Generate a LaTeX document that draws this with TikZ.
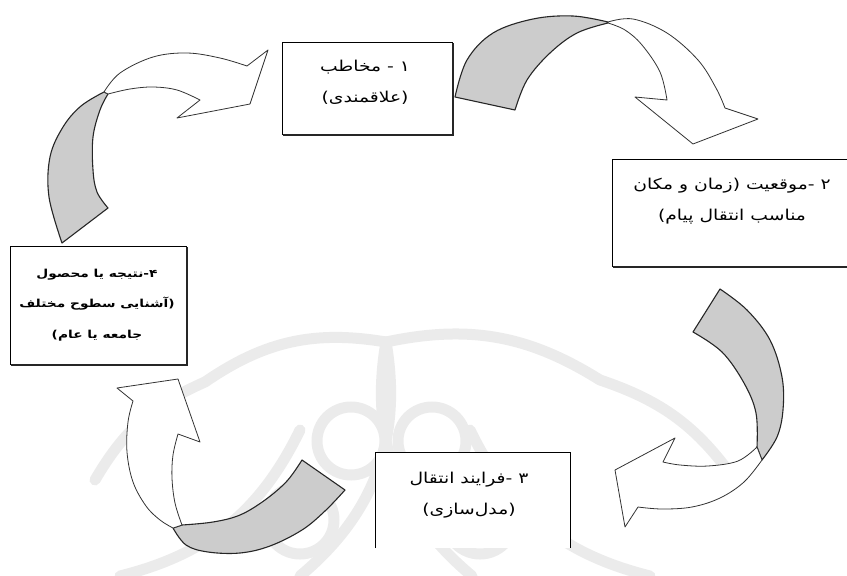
\documentclass[tikz,border=0pt]{standalone}
\usepackage{fontspec}
\newfontfamily\fa[Script=Arabic,FakeStretch=1.25]{DejaVu Sans}
\TeXXeTstate=1
\begin{document}
\begin{tikzpicture}[x=1pt,y=-1pt,
  box/.style={draw=black,line width=0.8pt,fill=white,inner sep=0pt},
  lbl/.style={font=\fa\fontsize{15}{31}\selectfont,align=center,inner sep=0pt},
  back/.style={draw=black!85,line width=1.1pt,fill=black!20,line join=round},
  front/.style={draw=black!80,line width=0.8pt,fill=white,line join=round},
  wm/.style={draw=black!8,line width=11pt,line cap=round}]
\useasboundingbox (0,0) rectangle (847,576);
\clip (0,0) rectangle (847,576);
% faint watermark
\draw[wm] (386,342) to[bend right=22] (205,382);
\draw[wm] (386,342) to[bend left=22] (600,380);
\draw[wm] (205,382) to[bend right=18] (95,480);
\draw[wm] (600,380) to[bend left=18] (735,480);
\draw[wm] (300,576) to[bend right=30] (386,342);
\draw[wm] (472,576) to[bend left=30] (386,342);
\draw[wm] (351,441) circle (34);
\draw[wm] (432,441) circle (34);
\draw[wm] (300,520) circle (34);
\draw[wm] (480,520) circle (34);
\draw[wm] (120,576) to[bend right=25] (300,430);
\draw[wm] (650,576) to[bend left=25] (470,430);
% boxes
\node[box,minimum width=170,minimum height=92] (b1) at (367,88) {};
\node[box,minimum width=250,minimum height=107] (b2) at (737,212.5) {};
\node[inner sep=0pt,minimum width=194,minimum height=95] (b3) at (473,500.5) {};
\node[box,minimum width=176,minimum height=118] (b4) at (98,305) {};
\fill[white] (b3.south west) rectangle (b3.north east);
\draw[line width=0.8pt] (b3.south west) -- (b3.north west) -- (b3.north east) -- (b3.south east);
\foreach \b in {b1,b2,b4}{
  \draw[line width=1.8pt,black!85] ([xshift=1pt,yshift=-0.6pt]\b.south west) -- ([xshift=0.6pt,yshift=-0.6pt]\b.south east) -- ([xshift=0.6pt,yshift=-1pt]\b.north east);
}
% texts
\node[lbl] (t1) at (365,82) {\beginR ۱ - مخاطب\endR\\\beginR (علاقمندی)\endR};
\node[lbl] (t2) at (732,201) {\beginR ۲ -موقعیت (زمان و مکان\endR\\\beginR مناسب انتقال پیام)\endR};
\node[lbl] (t3) at (469,495) {\beginR ۳ -فرایند انتقال\endR\\\beginR (مدل‌سازی)\endR};
\node[lbl,font=\fa\bfseries\fontsize{11}{30.5}\selectfont] (t4) at (97,305) {\beginR ۴-نتیجه یا محصول\endR\\\beginR (آشنایی سطوح مختلف\endR\\\beginR جامعه یا عام)\endR};
% arrow A (box 4 -> box 1)
\path[back] (62,243) -- plot[smooth,tension=0.6] coordinates {(62,243) (49,197) (50,157) (63,127) (81,106) (104,92)}
  -- plot[smooth,tension=0.6] coordinates {(108,94) (100,110) (93,137) (93,170) (97,192) (108,208)} -- cycle;
\path[front] (104,92) -- plot[smooth,tension=0.6] coordinates {(104,92) (120,73) (153,57) (187,53) (220,58) (247,66)}
  -- (268,50) -- (250,104) -- (177,118) -- (200,100)
  -- plot[smooth,tension=0.6] coordinates {(200,100) (177,90) (153,87) (130,89) (108,94)} -- cycle;
% arrow B (box 1 -> box 2)
\path[back] (455,97) -- plot[smooth,tension=0.6] coordinates {(455,97) (467,60) (493,33) (533,19) (573,16) (608,22)}
  -- plot[smooth,tension=0.6] coordinates {(608,23) (577,33) (550,53) (527,80) (515,110)} -- cycle;
\path[front] (608,22) -- plot[smooth,tension=0.6] coordinates {(608,22) (633,19) (667,33) (698,60) (716,88) (725,108)}
  -- (758,119) -- (693,144) -- (635,97) -- (667,100)
  -- plot[smooth,tension=0.6] coordinates {(667,100) (660,72) (642,45) (625,30) (608,23)} -- cycle;
% arrow C (box 2 -> box 3)
\path[back] (693,332) -- (720,289) -- plot[smooth,tension=0.6] coordinates {(720,289) (747,310) (770,340) (782,377) (783,410) (777,437) (762,460)}
  -- plot[smooth,tension=0.6] coordinates {(757,447) (756,413) (744,383) (722,352) (693,332)} -- cycle;
\path[front] (757,447) -- plot[smooth,tension=0.6] coordinates {(757,447) (738,461) (708,466) (680,465) (663,462)}
  -- (675,438) -- (615,470) -- (625,527) -- (638,507)
  -- plot[smooth,tension=0.6] coordinates {(638,507) (662,509) (692,507) (720,498) (744,482) (762,460)} -- cycle;
% arrow D (box 3 -> box 4)
\path[back] (302,460) -- (345,490) -- plot[smooth,tension=0.6] coordinates {(345,490) (325,511) (302,530) (270,546) (240,553) (208,552) (186,545) (173,528)}
  -- plot[smooth,tension=0.6] coordinates {(182,525) (213,522) (240,515) (265,500) (287,481) (302,460)} -- cycle;
\path[front] (182,525) -- plot[smooth,tension=0.6] coordinates {(182,525) (175,503) (172,478) (173,455) (178,434)}
  -- (200,442) -- (178,379) -- (117,388) -- (133,401)
  -- plot[smooth,tension=0.6] coordinates {(133,401) (128,422) (127,452) (133,482) (146,506) (160,520) (173,528)} -- cycle;
\end{tikzpicture}
\end{document}
